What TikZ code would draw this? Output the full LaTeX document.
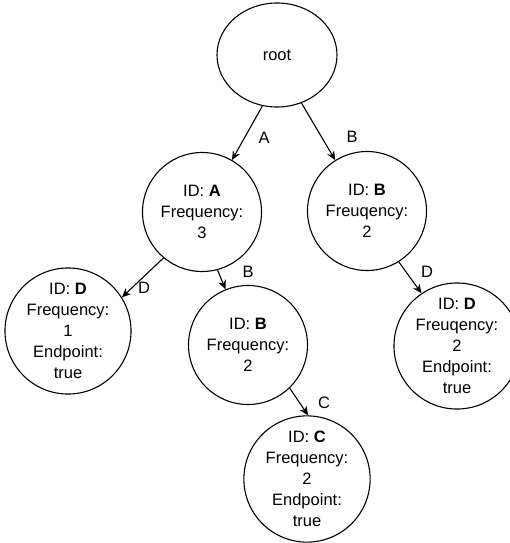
\documentclass[tikz,border=0pt]{standalone}
\usepackage{fontspec}
\setmainfont{Liberation Sans}
\usetikzlibrary{shapes.geometric,arrows.meta}
\begin{document}
\begin{tikzpicture}[x=1pt,y=-1pt,
  txt/.style={font=\fontsize{16.5}{21}\selectfont},
  trienode/.style={draw,circle,minimum size=119pt,inner sep=0pt,align=center,line width=1.1pt,txt},
  rootnode/.style={draw,ellipse,minimum width=120pt,minimum height=104pt,inner sep=0pt,line width=1.1pt,txt},
  conn/.style={line width=1.1pt,-{Stealth[length=9pt,width=8pt]}},
  lbl/.style={txt,inner sep=0pt}]
\useasboundingbox (0,0) rectangle (509,543);
\node[rootnode] (root) at (277,55) {root};
\node[trienode] (A) at (202,212) {ID: \textbf{A}\\Frequency:\\3};
\node[trienode] (BR) at (367,211) {ID: \textbf{B}\\Freuqency:\\2};
\node[trienode] (DL) at (68,331) {ID: \textbf{D}\\Frequency:\\1\\Endpoint:\\true};
\node[trienode] (BM) at (248,345) {ID: \textbf{B}\\Frequency:\\2};
\node[trienode] (C) at (307,479) {ID: \textbf{C}\\Frequency:\\2\\Endpoint:\\true};
\node[trienode] (DR) at (457,346) {ID: \textbf{D}\\Freuqency:\\2\\Endpoint:\\true};
\draw[conn] (root.254) -- (A.60);
\draw[conn] (root.297) -- (BR.122);
\draw[conn] (A.230) -- (DL.32);
\draw[conn] (A.285) -- (BM.112);
\draw[conn] (BM.314) -- (C.89);
\draw[conn] (BR.302) -- (DR.124);
\node[lbl] (lA) at (264,138) {A};
\node[lbl] (lB1) at (352,137) {B};
\node[lbl] (lD1) at (144,288) {D};
\node[lbl] (lB2) at (248,272) {B};
\node[lbl] (lC) at (324,403) {C};
\node[lbl] (lD2) at (427,272) {D};
\end{tikzpicture}
\end{document}
